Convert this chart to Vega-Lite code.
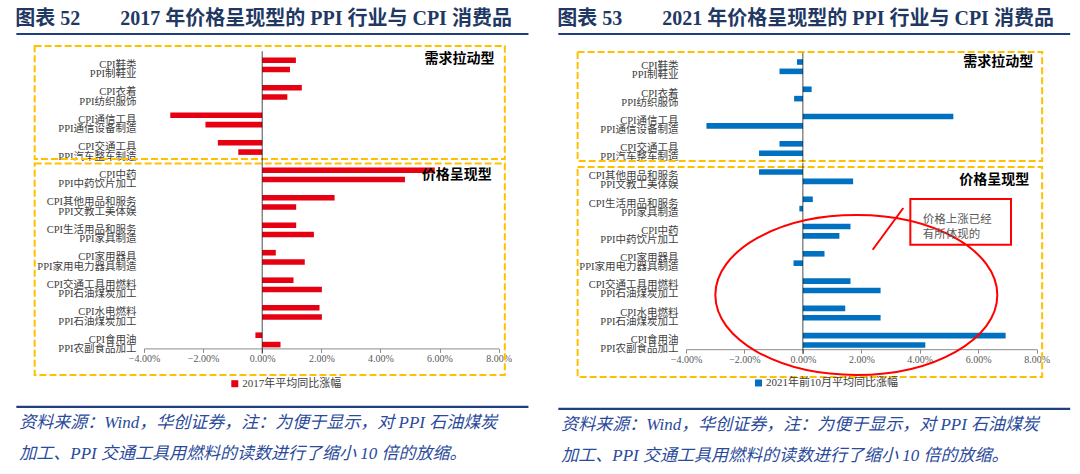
{
  "$schema": "https://vega.github.io/schema/vega-lite/v6.json",
  "background": "white",
  "padding": {"left": 15, "top": 8, "right": 0, "bottom": 0},
  "config": {"view": {"stroke": null}},
  "datasets": {
    "d2017": [
      {"box": "T", "group": "CPI鞋类|PPI制鞋业", "kind": "CPI", "value": 0.0114, "series": "2017年平均同比涨幅"},
      {"box": "T", "group": "CPI鞋类|PPI制鞋业", "kind": "PPI", "value": 0.0094, "series": "2017年平均同比涨幅"},
      {"box": "T", "group": "CPI衣着|PPI纺织服饰", "kind": "CPI", "value": 0.0134, "series": "2017年平均同比涨幅"},
      {"box": "T", "group": "CPI衣着|PPI纺织服饰", "kind": "PPI", "value": 0.0085, "series": "2017年平均同比涨幅"},
      {"box": "T", "group": "CPI通信工具|PPI通信设备制造", "kind": "CPI", "value": -0.0311, "series": "2017年平均同比涨幅"},
      {"box": "T", "group": "CPI通信工具|PPI通信设备制造", "kind": "PPI", "value": -0.0192, "series": "2017年平均同比涨幅"},
      {"box": "T", "group": "CPI交通工具|PPI汽车整车制造", "kind": "CPI", "value": -0.015, "series": "2017年平均同比涨幅"},
      {"box": "T", "group": "CPI交通工具|PPI汽车整车制造", "kind": "PPI", "value": -0.0081, "series": "2017年平均同比涨幅"},
      {"box": "B", "group": "CPI中药|PPI中药饮片加工", "kind": "CPI", "value": 0.0584, "series": "2017年平均同比涨幅"},
      {"box": "B", "group": "CPI中药|PPI中药饮片加工", "kind": "PPI", "value": 0.0483, "series": "2017年平均同比涨幅"},
      {"box": "B", "group": "CPI其他用品和服务|PPI文教工美体娱", "kind": "CPI", "value": 0.0245, "series": "2017年平均同比涨幅"},
      {"box": "B", "group": "CPI其他用品和服务|PPI文教工美体娱", "kind": "PPI", "value": 0.0115, "series": "2017年平均同比涨幅"},
      {"box": "B", "group": "CPI生活用品和服务|PPI家具制造", "kind": "CPI", "value": 0.0115, "series": "2017年平均同比涨幅"},
      {"box": "B", "group": "CPI生活用品和服务|PPI家具制造", "kind": "PPI", "value": 0.0175, "series": "2017年平均同比涨幅"},
      {"box": "B", "group": "CPI家用器具|PPI家用电力器具制造", "kind": "CPI", "value": 0.0046, "series": "2017年平均同比涨幅"},
      {"box": "B", "group": "CPI家用器具|PPI家用电力器具制造", "kind": "PPI", "value": 0.0144, "series": "2017年平均同比涨幅"},
      {"box": "B", "group": "CPI交通工具用燃料|PPI石油煤炭加工", "kind": "CPI", "value": 0.0106, "series": "2017年平均同比涨幅"},
      {"box": "B", "group": "CPI交通工具用燃料|PPI石油煤炭加工", "kind": "PPI", "value": 0.0202, "series": "2017年平均同比涨幅"},
      {"box": "B", "group": "CPI水电燃料|PPI石油煤炭加工", "kind": "CPI", "value": 0.0194, "series": "2017年平均同比涨幅"},
      {"box": "B", "group": "CPI水电燃料|PPI石油煤炭加工", "kind": "PPI", "value": 0.0202, "series": "2017年平均同比涨幅"},
      {"box": "B", "group": "CPI食用油|PPI农副食品加工", "kind": "CPI", "value": -0.0023, "series": "2017年平均同比涨幅"},
      {"box": "B", "group": "CPI食用油|PPI农副食品加工", "kind": "PPI", "value": 0.0062, "series": "2017年平均同比涨幅"}
    ],
    "d2021": [
      {"box": "T", "group": "CPI鞋类|PPI制鞋业", "kind": "CPI", "value": -0.002, "series": "2021年前10月平均同比涨幅"},
      {"box": "T", "group": "CPI鞋类|PPI制鞋业", "kind": "PPI", "value": -0.008, "series": "2021年前10月平均同比涨幅"},
      {"box": "T", "group": "CPI衣着|PPI纺织服饰", "kind": "CPI", "value": 0.003, "series": "2021年前10月平均同比涨幅"},
      {"box": "T", "group": "CPI衣着|PPI纺织服饰", "kind": "PPI", "value": -0.003, "series": "2021年前10月平均同比涨幅"},
      {"box": "T", "group": "CPI通信工具|PPI通信设备制造", "kind": "CPI", "value": 0.0515, "series": "2021年前10月平均同比涨幅"},
      {"box": "T", "group": "CPI通信工具|PPI通信设备制造", "kind": "PPI", "value": -0.033, "series": "2021年前10月平均同比涨幅"},
      {"box": "T", "group": "CPI交通工具|PPI汽车整车制造", "kind": "CPI", "value": -0.008, "series": "2021年前10月平均同比涨幅"},
      {"box": "T", "group": "CPI交通工具|PPI汽车整车制造", "kind": "PPI", "value": -0.015, "series": "2021年前10月平均同比涨幅"},
      {"box": "B", "group": "CPI其他用品和服务|PPI文教工美体娱", "kind": "CPI", "value": -0.015, "series": "2021年前10月平均同比涨幅"},
      {"box": "B", "group": "CPI其他用品和服务|PPI文教工美体娱", "kind": "PPI", "value": 0.0172, "series": "2021年前10月平均同比涨幅"},
      {"box": "B", "group": "CPI生活用品和服务|PPI家具制造", "kind": "CPI", "value": 0.0034, "series": "2021年前10月平均同比涨幅"},
      {"box": "B", "group": "CPI生活用品和服务|PPI家具制造", "kind": "PPI", "value": -0.0012, "series": "2021年前10月平均同比涨幅"},
      {"box": "B", "group": "CPI中药|PPI中药饮片加工", "kind": "CPI", "value": 0.0163, "series": "2021年前10月平均同比涨幅"},
      {"box": "B", "group": "CPI中药|PPI中药饮片加工", "kind": "PPI", "value": 0.0125, "series": "2021年前10月平均同比涨幅"},
      {"box": "B", "group": "CPI家用器具|PPI家用电力器具制造", "kind": "CPI", "value": 0.0074, "series": "2021年前10月平均同比涨幅"},
      {"box": "B", "group": "CPI家用器具|PPI家用电力器具制造", "kind": "PPI", "value": -0.0032, "series": "2021年前10月平均同比涨幅"},
      {"box": "B", "group": "CPI交通工具用燃料|PPI石油煤炭加工", "kind": "CPI", "value": 0.0163, "series": "2021年前10月平均同比涨幅"},
      {"box": "B", "group": "CPI交通工具用燃料|PPI石油煤炭加工", "kind": "PPI", "value": 0.0266, "series": "2021年前10月平均同比涨幅"},
      {"box": "B", "group": "CPI水电燃料|PPI石油煤炭加工", "kind": "CPI", "value": 0.0145, "series": "2021年前10月平均同比涨幅"},
      {"box": "B", "group": "CPI水电燃料|PPI石油煤炭加工", "kind": "PPI", "value": 0.0266, "series": "2021年前10月平均同比涨幅"},
      {"box": "B", "group": "CPI食用油|PPI农副食品加工", "kind": "CPI", "value": 0.0694, "series": "2021年前10月平均同比涨幅"},
      {"box": "B", "group": "CPI食用油|PPI农副食品加工", "kind": "PPI", "value": 0.0419, "series": "2021年前10月平均同比涨幅"}
    ]
  },
  "spacing": 27,
  "hconcat": [
    {
      "spacing": 8.9,
      "vconcat": [
        {
          "width": 354.6, "height": 2,
          "data": {"values": [{}]},
          "title": {"text": "图表 52\u3000\u30002017 年价格呈现型的 PPI 行业与 CPI 消费品", "anchor": "start", "frame": "bounds", "baseline": "bottom", "offset": -16, "fontSize": 20, "fontWeight": "bold", "font": "Liberation Serif, Noto Sans CJK SC", "color": "#1F3864"},
          "mark": {"type": "rule", "color": "#1F3F7F", "strokeWidth": 2.2},
          "encoding": {
            "x": {"datum": -0.0832, "type": "quantitative", "scale": {"domain": [-0.04, 0.08], "nice": false, "zero": false}, "axis": null},
            "x2": {"datum": 0.0901}
          }
        },
        {
          "spacing": 4.5,
          "bounds": "flush",
          "vconcat": [
            {
              "width": 354.6, "height": 113,
              "layer": [
                {
                  "data": {"values": [{}]},
                  "mark": {"type": "rect", "fillOpacity": 0, "stroke": "#FFC000", "strokeWidth": 2, "strokeDash": [7, 3]},
                  "encoding": {"x": {"datum": -0.077, "type": "quantitative", "axis": null}, "x2": {"datum": 0.0821}}
                },
                {
                  "data": {"name": "d2017"},
                  "transform": [{"filter": "datum.box === 'T'"}],
                  "mark": {"type": "bar", "color": "#E60012"},
                  "encoding": {
                    "x": {"field": "value", "type": "quantitative", "scale": {"domain": [-0.04, 0.08], "nice": false, "zero": false}, "axis": null},
                    "y": {"field": "group", "type": "nominal", "sort": null,
                      "scale": {"domain": ["CPI鞋类|PPI制鞋业", "CPI衣着|PPI纺织服饰", "CPI通信工具|PPI通信设备制造", "CPI交通工具|PPI汽车整车制造"], "paddingInner": 0.456, "paddingOuter": 0.2825, "align": 0.741},
                      "axis": {"title": null, "domain": false, "ticks": false, "labelExpr": "split(datum.label, '|')", "labelLineHeight": 9.4, "labelFontSize": 10.5, "labelFont": "Liberation Serif, Noto Sans CJK SC", "labelColor": "#404040", "labelPadding": 8, "labelLimit": 300, "labelBaseline": "middle"}},
                    "yOffset": {"field": "kind", "type": "nominal", "scale": {"domain": ["CPI", "PPI"], "paddingInner": 0.402, "paddingOuter": 0}}
                  }
                },
                {
                  "data": {"name": "d2017"},
                  "transform": [{"filter": "datum.box === 'T' && datum.kind === 'CPI'"}],
                  "mark": {"type": "tick", "color": "#000000", "thickness": 1, "size": 27.5},
                  "encoding": {"x": {"datum": 0, "type": "quantitative", "axis": null}, "y": {"field": "group", "type": "nominal", "sort": null}}
                },
                {
                  "data": {"name": "d2017"},
                  "transform": [{"filter": "datum.group === 'CPI鞋类|PPI制鞋业' && datum.kind === 'CPI'"}],
                  "mark": {"type": "text", "font": "Noto Sans CJK SC", "fontWeight": "bold", "fontSize": 14, "color": "#000000", "dy": -6},
                  "encoding": {"x": {"datum": 0.0668, "type": "quantitative", "axis": null}, "y": {"field": "group", "type": "nominal", "sort": null}, "text": {"value": "需求拉动型"}}
                }
              ]
            },
            {
              "width": 354.6, "height": 211.5,
              "layer": [
                {
                  "data": {"values": [{}]},
                  "mark": {"type": "rect", "fillOpacity": 0, "stroke": "#FFC000", "strokeWidth": 2, "strokeDash": [7, 3]},
                  "encoding": {"x": {"datum": -0.077, "type": "quantitative"}, "x2": {"datum": 0.0821}}
                },
                {
                  "data": {"name": "d2017"},
                  "transform": [{"filter": "datum.box === 'B'"}],
                  "mark": {"type": "bar"},
                  "encoding": {
                    "x": {"field": "value", "type": "quantitative", "scale": {"domain": [-0.04, 0.08], "nice": false, "zero": false},
                      "axis": {"title": null, "offset": -26.5, "values": [-0.04, -0.02, 0, 0.02, 0.04, 0.06, 0.08], "format": ".2%", "grid": false, "domainColor": "#8c8c8c", "tickColor": "#8c8c8c", "tickSize": 4, "labelFontSize": 10, "labelColor": "#595959", "labelFont": "Liberation Serif", "labelPadding": 1, "labelFlush": false, "labelOverlap": false}},
                    "y": {"field": "group", "type": "nominal", "sort": null,
                      "scale": {"domain": ["CPI中药|PPI中药饮片加工", "CPI其他用品和服务|PPI文教工美体娱", "CPI生活用品和服务|PPI家具制造", "CPI家用器具|PPI家用电力器具制造", "CPI交通工具用燃料|PPI石油煤炭加工", "CPI水电燃料|PPI石油煤炭加工", "CPI食用油|PPI农副食品加工"], "paddingInner": 0.456, "paddingOuter": 0.5735, "align": 0.127},
                      "axis": {"title": null, "domain": false, "ticks": false, "labelExpr": "split(datum.label, '|')", "labelLineHeight": 9.4, "labelFontSize": 10.5, "labelFont": "Liberation Serif, Noto Sans CJK SC", "labelColor": "#404040", "labelPadding": 8, "labelLimit": 300, "labelBaseline": "middle"}},
                    "yOffset": {"field": "kind", "type": "nominal", "scale": {"domain": ["CPI", "PPI"], "paddingInner": 0.402, "paddingOuter": 0}},
                    "color": {"field": "series", "type": "nominal", "scale": {"range": ["#E60012"]},
                      "legend": {"orient": "none", "legendX": 85.3, "legendY": 345.2, "title": null, "symbolType": "square", "symbolSize": 49, "labelFontSize": 11, "labelFont": "Liberation Serif, Noto Sans CJK SC", "labelColor": "#404040", "padding": 0, "labelOffset": 2}}
                  }
                },
                {
                  "data": {"name": "d2017"},
                  "transform": [{"filter": "datum.box === 'B' && datum.kind === 'CPI'"}],
                  "mark": {"type": "tick", "color": "#000000", "thickness": 1, "size": 27.5},
                  "encoding": {"x": {"datum": 0, "type": "quantitative"}, "y": {"field": "group", "type": "nominal", "sort": null}}
                },
                {
                  "data": {"name": "d2017"},
                  "transform": [{"filter": "datum.group === 'CPI中药|PPI中药饮片加工' && datum.kind === 'CPI'"}],
                  "mark": {"type": "text", "font": "Noto Sans CJK SC", "fontWeight": "bold", "fontSize": 14, "color": "#000000"},
                  "encoding": {"x": {"datum": 0.0658, "type": "quantitative"}, "y": {"field": "group", "type": "nominal", "sort": null}, "text": {"value": "价格呈现型"}}
                }
              ]
            }
          ]
        },
        {
          "width": 354.6, "height": 44.2,
          "data": {"values": [{}]},
          "layer": [
            {
              "mark": {"type": "rule", "color": "#1F3F7F", "strokeWidth": 2.2},
              "encoding": {
                "x": {"datum": -0.0832, "type": "quantitative", "scale": {"domain": [-0.04, 0.08], "nice": false, "zero": false}, "axis": null},
                "x2": {"datum": 0.0901}
              }
            },
            {
              "mark": {"type": "text", "align": "left", "baseline": "top", "dy": 8, "lineBreak": "|", "lineHeight": 31, "fontSize": 17, "fontStyle": "italic", "font": "Liberation Serif, Noto Sans CJK SC", "color": "#2A4A9A"},
              "encoding": {
                "x": {"datum": -0.0822, "type": "quantitative", "axis": null},
                "text": {"value": "资料来源：Wind，华创证券，注：为便于显示，对 PPI 石油煤炭|加工、PPI 交通工具用燃料的读数进行了缩小 10 倍的放缩。"}
              }
            }
          ]
        }
      ]
    },
    {
      "spacing": 14.9,
      "vconcat": [
        {
          "width": 350.6, "height": 2,
          "data": {"values": [{}]},
          "title": {"text": "图表 53\u3000\u30002021 年价格呈现型的 PPI 行业与 CPI 消费品", "anchor": "start", "frame": "bounds", "baseline": "bottom", "offset": -16, "fontSize": 20, "fontWeight": "bold", "font": "Liberation Serif, Noto Sans CJK SC", "color": "#1F3864"},
          "mark": {"type": "rule", "color": "#1F3F7F", "strokeWidth": 2.2},
          "encoding": {
            "x": {"datum": -0.0837, "type": "quantitative", "scale": {"domain": [-0.04, 0.08], "nice": false, "zero": false}, "axis": null},
            "x2": {"datum": 0.0915}
          }
        },
        {
          "spacing": 6,
          "bounds": "flush",
          "vconcat": [
            {
              "width": 350.6, "height": 109,
              "layer": [
                {
                  "data": {"values": [{}]},
                  "mark": {"type": "rect", "fillOpacity": 0, "stroke": "#FFC000", "strokeWidth": 2, "strokeDash": [7, 3]},
                  "encoding": {"x": {"datum": -0.0771, "type": "quantitative", "axis": null}, "x2": {"datum": 0.0819}}
                },
                {
                  "data": {"name": "d2021"},
                  "transform": [{"filter": "datum.box === 'T'"}],
                  "mark": {"type": "bar", "color": "#0070C0"},
                  "encoding": {
                    "x": {"field": "value", "type": "quantitative", "scale": {"domain": [-0.04, 0.08], "nice": false, "zero": false}, "axis": null},
                    "y": {"field": "group", "type": "nominal", "sort": null,
                      "scale": {"domain": ["CPI鞋类|PPI制鞋业", "CPI衣着|PPI纺织服饰", "CPI通信工具|PPI通信设备制造", "CPI交通工具|PPI汽车整车制造"], "paddingInner": 0.472, "paddingOuter": 0.2345, "align": 0.571},
                      "axis": {"title": null, "domain": false, "ticks": false, "labelExpr": "split(datum.label, '|')", "labelLineHeight": 9.0, "labelFontSize": 10.5, "labelFont": "Liberation Serif, Noto Sans CJK SC", "labelColor": "#404040", "labelPadding": 8, "labelLimit": 300, "labelBaseline": "middle"}},
                    "yOffset": {"field": "kind", "type": "nominal", "scale": {"domain": ["CPI", "PPI"], "paddingInner": 0.4, "paddingOuter": 0}}
                  }
                },
                {
                  "data": {"name": "d2021"},
                  "transform": [{"filter": "datum.box === 'T' && datum.kind === 'CPI'"}],
                  "mark": {"type": "tick", "color": "#000000", "thickness": 1, "size": 27.3},
                  "encoding": {"x": {"datum": 0, "type": "quantitative", "axis": null}, "y": {"field": "group", "type": "nominal", "sort": null}}
                },
                {
                  "data": {"name": "d2021"},
                  "transform": [{"filter": "datum.group === 'CPI鞋类|PPI制鞋业' && datum.kind === 'CPI'"}],
                  "mark": {"type": "text", "font": "Noto Sans CJK SC", "fontWeight": "bold", "fontSize": 14, "color": "#000000", "dy": -4.5},
                  "encoding": {"x": {"datum": 0.0669, "type": "quantitative", "axis": null}, "y": {"field": "group", "type": "nominal", "sort": null}, "text": {"value": "需求拉动型"}}
                }
              ]
            },
            {
              "width": 350.6, "height": 210,
              "layer": [
                {
                  "data": {"values": [{}]},
                  "mark": {"type": "rect", "fillOpacity": 0, "stroke": "#FFC000", "strokeWidth": 2, "strokeDash": [7, 3]},
                  "encoding": {"x": {"datum": -0.0771, "type": "quantitative"}, "x2": {"datum": 0.0819}}
                },
                {
                  "data": {"name": "d2021"},
                  "transform": [{"filter": "datum.box === 'B'"}],
                  "mark": {"type": "bar"},
                  "encoding": {
                    "x": {"field": "value", "type": "quantitative", "scale": {"domain": [-0.04, 0.08], "nice": false, "zero": false},
                      "axis": {"title": null, "offset": -27.7, "values": [-0.04, -0.02, 0, 0.02, 0.04, 0.06, 0.08], "format": ".2%", "grid": false, "domainColor": "#8c8c8c", "tickColor": "#8c8c8c", "tickSize": 4, "labelFontSize": 10, "labelColor": "#595959", "labelFont": "Liberation Serif", "labelPadding": 1, "labelFlush": false, "labelOverlap": false}},
                    "y": {"field": "group", "type": "nominal", "sort": null,
                      "scale": {"domain": ["CPI其他用品和服务|PPI文教工美体娱", "CPI生活用品和服务|PPI家具制造", "CPI中药|PPI中药饮片加工", "CPI家用器具|PPI家用电力器具制造", "CPI交通工具用燃料|PPI石油煤炭加工", "CPI水电燃料|PPI石油煤炭加工", "CPI食用油|PPI农副食品加工"], "paddingInner": 0.472, "paddingOuter": 0.5865, "align": 0.072},
                      "axis": {"title": null, "domain": false, "ticks": false, "labelExpr": "split(datum.label, '|')", "labelLineHeight": 9.0, "labelFontSize": 10.5, "labelFont": "Liberation Serif, Noto Sans CJK SC", "labelColor": "#404040", "labelPadding": 8, "labelLimit": 300, "labelBaseline": "middle"}},
                    "yOffset": {"field": "kind", "type": "nominal", "scale": {"domain": ["CPI", "PPI"], "paddingInner": 0.4, "paddingOuter": 0}},
                    "fill": {"field": "series", "type": "nominal", "scale": {"range": ["#0070C0"]},
                      "legend": {"orient": "none", "legendX": 609, "legendY": 344.5, "title": null, "symbolType": "square", "symbolSize": 49, "labelFontSize": 11, "labelFont": "Liberation Serif, Noto Sans CJK SC", "labelColor": "#404040", "padding": 0, "labelOffset": 2}}
                  }
                },
                {
                  "data": {"name": "d2021"},
                  "transform": [{"filter": "datum.box === 'B' && datum.kind === 'CPI'"}],
                  "mark": {"type": "tick", "color": "#000000", "thickness": 1, "size": 27.3},
                  "encoding": {"x": {"datum": 0, "type": "quantitative"}, "y": {"field": "group", "type": "nominal", "sort": null}}
                },
                {
                  "data": {"name": "d2021"},
                  "transform": [{"filter": "datum.group === 'CPI其他用品和服务|PPI文教工美体娱' && datum.kind === 'CPI'"}],
                  "mark": {"type": "text", "font": "Noto Sans CJK SC", "fontWeight": "bold", "fontSize": 14, "color": "#000000", "dy": 3.5},
                  "encoding": {"x": {"datum": 0.0655, "type": "quantitative"}, "y": {"field": "group", "type": "nominal", "sort": null}, "text": {"value": "价格呈现型"}}
                },
                {
                  "data": {"name": "d2021"},
                  "transform": [{"filter": "datum.group === 'CPI交通工具用燃料|PPI石油煤炭加工' && datum.kind === 'CPI'"}],
                  "mark": {"type": "point", "shape": "M-1,0A1,0.567,0,1,1,1,0A1,0.567,0,1,1,-1,0Z M0.116,-0.321L0.333,-0.617 M0.383,-0.681L1.097,-0.681L1.097,-0.357L0.383,-0.357Z", "size": 79524, "filled": false, "color": "#FF0000", "strokeWidth": 2, "opacity": 1, "yOffset": 9.5},
                  "encoding": {"x": {"datum": 0.0183, "type": "quantitative"}, "y": {"field": "group", "type": "nominal", "sort": null}}
                },
                {
                  "data": {"name": "d2021"},
                  "transform": [{"filter": "datum.group === 'CPI生活用品和服务|PPI家具制造' && datum.kind === 'CPI'"}],
                  "mark": {"type": "text", "align": "left", "baseline": "middle", "lineBreak": "|", "lineHeight": 15.5, "fontSize": 11.5, "color": "#595959", "font": "Noto Sans CJK SC", "dy": 16},
                  "encoding": {"x": {"datum": 0.041, "type": "quantitative"}, "y": {"field": "group", "type": "nominal", "sort": null}, "text": {"value": "价格上涨已经|有所体现的"}}
                }
              ]
            }
          ]
        },
        {
          "width": 350.6, "height": 28.2,
          "data": {"values": [{}]},
          "layer": [
            {
              "mark": {"type": "rule", "color": "#1F3F7F", "strokeWidth": 2.2},
              "encoding": {
                "x": {"datum": -0.0837, "type": "quantitative", "scale": {"domain": [-0.04, 0.08], "nice": false, "zero": false}, "axis": null},
                "x2": {"datum": 0.0915}
              }
            },
            {
              "mark": {"type": "text", "align": "left", "baseline": "top", "dy": 8, "lineBreak": "|", "lineHeight": 31, "fontSize": 17, "fontStyle": "italic", "font": "Liberation Serif, Noto Sans CJK SC", "color": "#2A4A9A"},
              "encoding": {
                "x": {"datum": -0.0827, "type": "quantitative", "axis": null},
                "text": {"value": "资料来源：Wind，华创证券，注：为便于显示，对 PPI 石油煤炭|加工、PPI 交通工具用燃料的读数进行了缩小 10 倍的放缩。"}
              }
            }
          ]
        }
      ]
    }
  ]
}
